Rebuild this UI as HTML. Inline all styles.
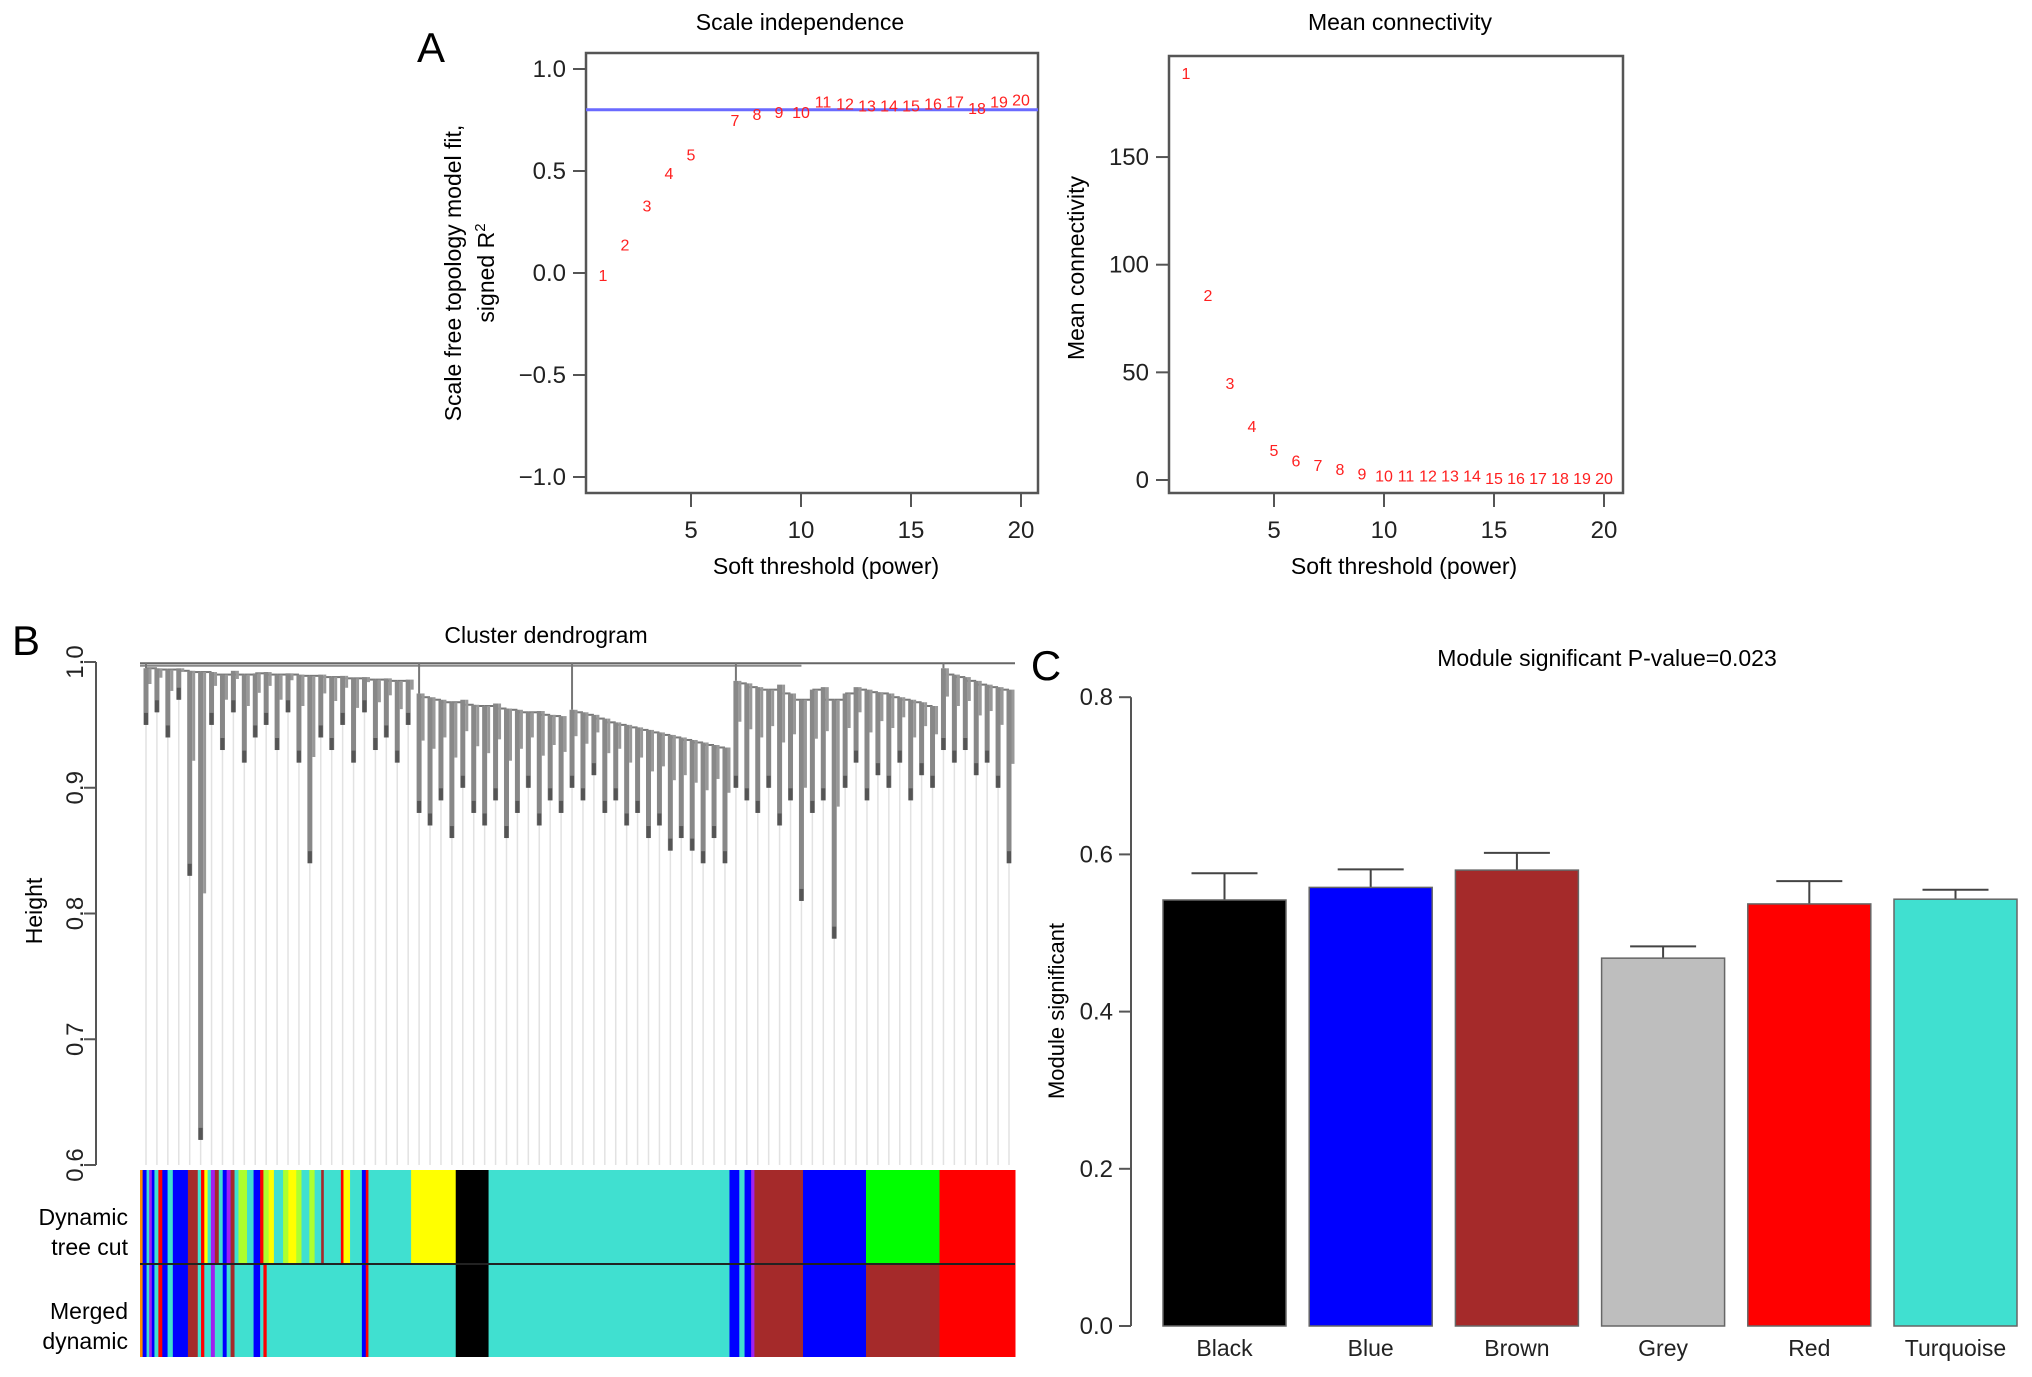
<!DOCTYPE html>
<html><head><meta charset="utf-8"><style>
html,body{margin:0;padding:0;background:#fff}
svg{display:block}
text{font-family:"Liberation Sans",Arial,sans-serif}
</style></head><body>
<svg id="fig" width="2032" height="1377" viewBox="0 0 2032 1377" xmlns="http://www.w3.org/2000/svg">
<rect width="2032" height="1377" fill="#fff"/>
<g id="pA1"></g>
<g id="pA2"></g>
<g id="pB"></g>
<g id="pC"></g>
</svg>
<script>
// ---------- data ----------
const powers = [1,2,3,4,5,6,7,8,9,10,11,12,13,14,15,16,17,18,19,20];
const scaleFitR2 = [-0.01,0.14,0.33,0.49,0.58,null,0.75,0.78,0.79,0.79,0.84,0.83,0.82,0.82,0.82,0.83,0.84,0.81,0.84,0.85];
const meanConn = [189,86,45,25,14,9,7,5,3,2,2,2,2,2,1,1,1,1,1,1];
const r2Cutoff = 0.8;
const fitTicks = [-1.0,-0.5,0.0,0.5,1.0];
const fitTickLabels = ["\u22121.0","\u22120.5","0.0","0.5","1.0"];
const xTicks = [5,10,15,20];
const connTicks = [0,50,100,150];

const modules = ["Black","Blue","Brown","Grey","Red","Turquoise"];
const moduleColors = ["#000000","#0000ff","#a52a2a","#bebebe","#ff0000","#40e0d0"];
const moduleSig = [0.542,0.558,0.580,0.468,0.537,0.543];
const moduleErr = [0.034,0.023,0.022,0.015,0.029,0.012];
const sigTicks = [0.0,0.2,0.4,0.6,0.8];

const heightTicks = [0.6,0.7,0.8,0.9,1.0];
const leafBottom = [.95,.96,.94,.97,.83,.62,
 .95,.93,.96,.92,.94,.95,.93,.96,.92,.84,.94,.93,.95,.92,.96,.93,.94,.92,.95,
 .88,.87,.89,.86,.90,.88,.87,.89,.86,.88,.90,.87,.89,.88,
 .90,.89,.91,.88,.89,.87,.88,.86,.87,.85,.86,.85,.84,.86,.84,
 .90,.89,.88,.90,.87,.89,.81,.88,.89,
 .78,.90,.92,.89,.91,.90,.92,.89,.91,.90,
 .93,.92,.93,.91,.92,.90,.84];
const leafTop = [.995,.995,.994,.995,.993,.992,
 .992,.99,.993,.99,.991,.992,.99,.991,.99,.989,.99,.988,.989,.987,.988,.986,.987,.985,.986,
 .975,.972,.97,.968,.97,.966,.965,.967,.963,.962,.96,.961,.958,.957,
 .962,.96,.958,.955,.952,.95,.948,.946,.944,.942,.94,.938,.936,.934,.932,
 .985,.983,.98,.978,.982,.975,.97,.978,.98,
 .97,.975,.98,.978,.976,.975,.972,.97,.968,.965,
 .995,.99,.988,.985,.982,.98,.978];
const leafGroups = [[0,24],[25,38],[39,53],[54,72],[73,79]];
const dynamicCut = [[0,"#ff8c00"],[4,"#0000ff"],[10,"#40e0d0"],[14,"#a020f0"],[18,"#0000ff"],[22,"#40e0d0"],[28,"#ff0000"],[34,"#0000ff"],[42,"#40e0d0"],[50,"#0000ff"],[73,"#a52a2a"],[88,"#40e0d0"],[93,"#ff0000"],[98,"#ffff00"],[103,"#40e0d0"],[108,"#a020f0"],[114,"#a52a2a"],[120,"#40e0d0"],[126,"#0000ff"],[132,"#a020f0"],[138,"#a52a2a"],[144,"#40e0d0"],[150,"#adff2f"],[163,"#40e0d0"],[173,"#0000ff"],[183,"#ff0000"],[188,"#adff2f"],[196,"#ffff00"],[204,"#40e0d0"],[218,"#adff2f"],[226,"#ffff00"],[238,"#adff2f"],[246,"#40e0d0"],[258,"#adff2f"],[266,"#40e0d0"],[276,"#a52a2a"],[280,"#40e0d0"],[306,"#ff0000"],[310,"#ffff00"],[320,"#40e0d0"],[338,"#0000ff"],[344,"#ff0000"],[348,"#40e0d0"],[413,"#ffff00"],[481,"#000000"],[531,"#40e0d0"],[898,"#0000ff"],[913,"#40e0d0"],[921,"#0000ff"],[931,"#a020f0"],[936,"#a52a2a"],[1010,"#0000ff"],[1106,"#00ff00"],[1218,"#ff0000"]];
const mergedDyn = [[0,"#ff8c00"],[4,"#0000ff"],[10,"#40e0d0"],[14,"#a020f0"],[18,"#0000ff"],[22,"#40e0d0"],[28,"#ff0000"],[34,"#0000ff"],[42,"#40e0d0"],[50,"#0000ff"],[73,"#a52a2a"],[88,"#40e0d0"],[93,"#ff0000"],[98,"#40e0d0"],[108,"#a020f0"],[114,"#40e0d0"],[126,"#0000ff"],[132,"#40e0d0"],[138,"#a52a2a"],[144,"#40e0d0"],[173,"#0000ff"],[183,"#40e0d0"],[188,"#ff0000"],[193,"#40e0d0"],[338,"#0000ff"],[344,"#ff0000"],[348,"#40e0d0"],[481,"#000000"],[531,"#40e0d0"],[898,"#0000ff"],[913,"#40e0d0"],[921,"#0000ff"],[931,"#a020f0"],[936,"#a52a2a"],[1010,"#0000ff"],[1106,"#a52a2a"],[1218,"#ff0000"]];
const geneCount = 1333;

const NS="http://www.w3.org/2000/svg";
function mk(parent,tag,attrs,txt){const e=document.createElementNS(NS,tag);for(const k in attrs)e.setAttribute(k,attrs[k]);if(txt!==undefined)e.textContent=txt;parent.appendChild(e);return e;}

// ---------- Panel A1 ----------
(function(){
 const g=document.getElementById('pA1');
 const L=586,R=1038,T=53,B=493;
 const x=v=>603+(v-1)*22;
 const y=v=>273-v*204;
 let e;
 e=mk(g,'text',{x:431,y:62,'font-size':42,'text-anchor':'middle'},'A');
 
 
 e=mk(g,'text',{x:800,y:30,'font-size':23,'text-anchor':'middle'},'Scale independence');
 
 
 e=mk(g,'rect',{x:L,y:T,width:R-L,height:B-T,fill:'none',stroke:'#555','stroke-width':2.5});
 
 
 fitTicks.forEach((t,i)=>{
  mk(g,'line',{x1:L-13,x2:L,y1:y(t),y2:y(t),stroke:'#555','stroke-width':2});
  e=mk(g,'text',{x:L-20,y:y(t)+8,'font-size':24,'text-anchor':'end',fill:'#222'},fitTickLabels[i]);
  
  
 });
 xTicks.forEach(t=>{
  mk(g,'line',{x1:x(t),x2:x(t),y1:B,y2:B+14,stroke:'#555','stroke-width':2});
  e=mk(g,'text',{x:x(t),y:538,'font-size':24,'text-anchor':'middle',fill:'#222'},String(t));
  
  
 });
 e=mk(g,'text',{x:826,y:574,'font-size':23,'text-anchor':'middle'},'Soft threshold (power)');
 
 
 e=mk(g,'text',{transform:'translate(461,273) rotate(-90)','font-size':23,'text-anchor':'middle'},'Scale free topology model fit,');
 
 
 e=mk(g,'text',{transform:'translate(494,273) rotate(-90)','font-size':23,'text-anchor':'middle'});
 
 
 mk(e,'tspan',{},'signed R');
 mk(e,'tspan',{dy:-9,'font-size':15},'2');
 e=mk(g,'line',{x1:L,x2:R,y1:y(r2Cutoff),y2:y(r2Cutoff),stroke:'#6a6aff','stroke-width':3});
 
 
 powers.forEach((p,i)=>{
  if(scaleFitR2[i]===null) return;
  e=mk(g,'text',{x:x(p),y:y(scaleFitR2[i])+6,'font-size':16,'text-anchor':'middle',fill:'#ff2020'},String(p));
  
  
 });
})();

// ---------- Panel A2 ----------
(function(){
 const g=document.getElementById('pA2');
 const L=1169,R=1623,T=56,B=493;
 const x=v=>1186+(v-1)*22;
 const y=v=>480-v*2.153;
 let e;
 e=mk(g,'text',{x:1400,y:30,'font-size':23,'text-anchor':'middle'},'Mean connectivity');
 
 
 e=mk(g,'rect',{x:L,y:T,width:R-L,height:B-T,fill:'none',stroke:'#555','stroke-width':2.5});
 
 
 connTicks.forEach(t=>{
  mk(g,'line',{x1:L-13,x2:L,y1:y(t),y2:y(t),stroke:'#555','stroke-width':2});
  e=mk(g,'text',{x:L-20,y:y(t)+8,'font-size':24,'text-anchor':'end',fill:'#222'},String(t));
  
  
 });
 xTicks.forEach(t=>{
  mk(g,'line',{x1:x(t),x2:x(t),y1:B,y2:B+14,stroke:'#555','stroke-width':2});
  e=mk(g,'text',{x:x(t),y:538,'font-size':24,'text-anchor':'middle',fill:'#222'},String(t));
  
  
 });
 e=mk(g,'text',{x:1404,y:574,'font-size':23,'text-anchor':'middle'},'Soft threshold (power)');
 
 
 e=mk(g,'text',{transform:'translate(1084,268) rotate(-90)','font-size':23,'text-anchor':'middle'},'Mean connectivity');
 
 
 powers.forEach((p,i)=>{
  e=mk(g,'text',{x:x(p),y:y(meanConn[i])+6,'font-size':16,'text-anchor':'middle',fill:'#ff2020'},String(p));
  
  
 });
})();

// ---------- Panel B ----------
(function(){
 const g=document.getElementById('pB');
 const L=140,R=1015;
 const y=v=>662+(1-v)*1257.5;
 const lx=i=>L+6+i*(R-L-12)/(leafBottom.length-1);
 const gx=k=>L+k*(R-L)/geneCount;
 let e;
 e=mk(g,'text',{x:26,y:655,'font-size':42,'text-anchor':'middle'},'B');
 
 
 e=mk(g,'text',{x:546,y:643,'font-size':23,'text-anchor':'middle'},'Cluster dendrogram');
 
 
 mk(g,'line',{x1:96,x2:96,y1:y(1.0),y2:y(0.6),stroke:'#555','stroke-width':2});
 heightTicks.forEach(t=>{
  mk(g,'line',{x1:84,x2:96,y1:y(t),y2:y(t),stroke:'#555','stroke-width':2});
  e=mk(g,'text',{transform:`translate(83,${y(t)}) rotate(-90)`,'font-size':24,'text-anchor':'middle',fill:'#222'},t.toFixed(1));
  
  
 });
 e=mk(g,'text',{transform:'translate(42,911) rotate(-90)','font-size':23,'text-anchor':'middle'},'Height');
 
 
 leafBottom.forEach((b,i)=>{
  mk(g,'line',{x1:lx(i),x2:lx(i),y1:y(b),y2:y(0.6),stroke:'#e2e2e2','stroke-width':1.5});
 });
 mk(g,'line',{x1:L,x2:R,y1:y(0.999),y2:y(0.999),stroke:'#666','stroke-width':2});
 mk(g,'line',{x1:L,x2:lx(60),y1:y(0.997),y2:y(0.997),stroke:'#888','stroke-width':2});
 leafGroups.forEach(([a,b])=>{
  for(let i=a;i<b;i++){
   const h=Math.min(leafTop[i],leafTop[i+1]);
   mk(g,'line',{x1:lx(i),x2:lx(i+1),y1:y(h),y2:y(h),stroke:'#777','stroke-width':2});
  }
  mk(g,'line',{x1:lx(a),x2:lx(a),y1:y(0.999),y2:y(leafTop[a]),stroke:'#777','stroke-width':2});
 });
 leafBottom.forEach((b,i)=>{
  e=mk(g,'line',{x1:lx(i),x2:lx(i),y1:y(leafTop[i]),y2:y(b),stroke:'#888','stroke-width':5});
  
  
  mk(g,'line',{x1:lx(i)+4,x2:lx(i)+4,y1:y(leafTop[i]),y2:y((leafTop[i]+b)/2+0.01),stroke:'#999','stroke-width':3});
  mk(g,'line',{x1:lx(i),x2:lx(i),y1:y(b)-12,y2:y(b),stroke:'#555','stroke-width':4});
 });
 function row(arr,top,h,name){
  arr.forEach((s,i)=>{
   const end=i<arr.length-1?arr[i+1][0]:geneCount;
   e=mk(g,'rect',{x:gx(s[0]),y:top,width:gx(end)-gx(s[0])+0.5,height:h,fill:s[1]});
   
   
  });
 }
 row(dynamicCut,1170,94,'dynamic-tree-cut-segment');
 row(mergedDyn,1264,93,'merged-dynamic-segment');
 mk(g,'line',{x1:L,x2:R,y1:1264,y2:1264,stroke:'#222','stroke-width':2});
 e=mk(g,'text',{x:128,y:1225,'font-size':23,'text-anchor':'end'},'Dynamic');
 
 
 mk(g,'text',{x:128,y:1255,'font-size':23,'text-anchor':'end'},'tree cut');
 e=mk(g,'text',{x:128,y:1319,'font-size':23,'text-anchor':'end'},'Merged');
 
 
 mk(g,'text',{x:128,y:1349,'font-size':23,'text-anchor':'end'},'dynamic');
})();

// ---------- Panel C ----------
(function(){
 const g=document.getElementById('pC');
 const y=v=>1326-v*786;
 const bx=i=>1163+i*146.2;
 const bw=123;
 let e;
 e=mk(g,'text',{x:1046,y:680,'font-size':42,'text-anchor':'middle'},'C');
 
 
 e=mk(g,'text',{x:1607,y:666,'font-size':23,'text-anchor':'middle'},'Module significant P-value=0.023');
 
 
 mk(g,'line',{x1:1131,x2:1131,y1:y(0.8),y2:y(0),stroke:'#555','stroke-width':2});
 sigTicks.forEach(t=>{
  mk(g,'line',{x1:1119,x2:1131,y1:y(t),y2:y(t),stroke:'#555','stroke-width':2});
  e=mk(g,'text',{x:1113,y:y(t)+8,'font-size':24,'text-anchor':'end',fill:'#222'},t.toFixed(1));
  
  
 });
 e=mk(g,'text',{transform:'translate(1064,1011) rotate(-90)','font-size':22,'text-anchor':'middle'},'Module significant');
 
 
 modules.forEach((m,i)=>{
  const cx=bx(i)+bw/2, hi=y(moduleSig[i]+moduleErr[i]), lo=y(moduleSig[i]-moduleErr[i]);
  e=mk(g,'g',{stroke:'#444','stroke-width':2});
  
  
  mk(e,'line',{x1:cx,x2:cx,y1:hi,y2:lo});
  mk(e,'line',{x1:cx-33,x2:cx+33,y1:hi,y2:hi});
  mk(e,'line',{x1:cx-33,x2:cx+33,y1:lo,y2:lo});
  e=mk(g,'rect',{x:bx(i),y:y(moduleSig[i]),width:bw,height:y(0)-y(moduleSig[i]),fill:moduleColors[i],stroke:'#666','stroke-width':1.5});
  
  
  e=mk(g,'text',{x:cx,y:1356,'font-size':23,'text-anchor':'middle',fill:'#222'},m);
  
  
 });
})();
</script>
</body></html>
